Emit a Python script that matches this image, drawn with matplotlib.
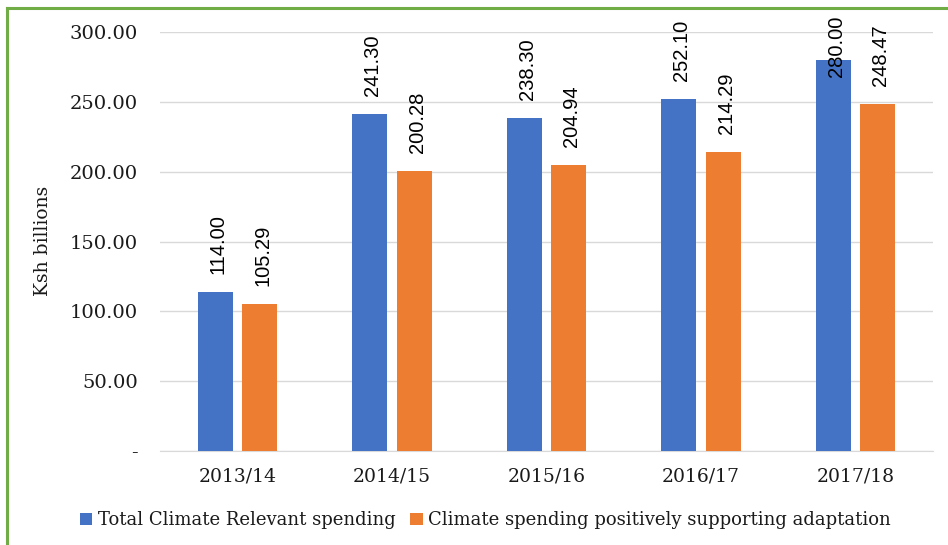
import matplotlib.pyplot as plt
import matplotlib.lines as mlines
import numpy as np

years = ['2013/14', '2014/15', '2015/16', '2016/17', '2017/18']
total_spending = [114.00, 241.30, 238.30, 252.10, 280.00]
adaptation_spending = [105.29, 200.28, 204.94, 214.29, 248.47]
series_names = ['Total Climate Relevant spending',
                'Climate spending positively supporting adaptation']

blue = '#4472C4'
orange = '#ED7D31'
grid_col = '#D9D9D9'
text_col = '#1A1A1A'
serif = 'DejaVu Serif'

fig = plt.figure(figsize=(9.48, 5.45), dpi=100)
ax = fig.add_axes([0.169, 0.1725, 0.815, 0.7685])

x = np.arange(len(years))
w = 0.226
off = 0.144
b1 = ax.bar(x - off, total_spending, w, color=blue, label=series_names[0], zorder=3)
b2 = ax.bar(x + off, adaptation_spending, w, color=orange, label=series_names[1], zorder=3)

ax.set_xlim(-0.5, len(years) - 0.5)
ax.set_ylim(0, 300)
ax.set_yticks(np.arange(0, 301, 50))
ax.set_yticklabels(['-' if t == 0 else f'{t:.2f}' for t in np.arange(0, 301, 50)],
                   fontfamily=serif, fontsize=14, color=text_col)
ax.set_xticks(x)
ax.set_xticklabels(years, fontfamily=serif, fontsize=13.5, color=text_col)
ax.tick_params(length=0)
ax.tick_params(axis='y', pad=16)
ax.tick_params(axis='x', pad=12)

ax.grid(axis='y', color=grid_col, lw=1, zorder=0)
for s in ['top', 'right', 'left']:
    ax.spines[s].set_visible(False)
ax.spines['bottom'].set_color(grid_col)

fig.text(43 / 948, 1 - 241 / 545, 'Ksh billions', rotation=90, ha='center', va='center',
         fontfamily=serif, fontsize=13.5, color=text_col)

# value labels, pushed down when they would run off the top of the chart
fig.canvas.draw()
renderer = fig.canvas.get_renderer()
y_limit = 312
for bars, vals in [(b1, total_spending), (b2, adaptation_spending)]:
    for bar, v in zip(bars, vals):
        t = ax.text(bar.get_x() + bar.get_width() / 2 + 0.02, v + 13, f'{v:.2f}',
                    rotation=90, ha='center', va='bottom', fontsize=14.5,
                    fontfamily='Liberation Sans', color='#000000', zorder=4,
                    clip_on=False)
        bb = t.get_window_extent(renderer).transformed(ax.transData.inverted())
        h = bb.y1 - bb.y0
        if v + 13 + h > y_limit:
            t.set_y(y_limit - h)

leg = fig.legend(handles=[b1, b2], loc='center', bbox_to_anchor=(0.512, 0.045),
                 ncol=2, frameon=False, handlelength=0.7, handleheight=0.7,
                 handletextpad=0.3, columnspacing=0.8,
                 prop={'family': serif, 'size': 13})
for txt in leg.get_texts():
    txt.set_color(text_col)

# green frame on the left and top edges
green = '#70AD47'
fig.add_artist(mlines.Line2D([7 / 948, 7 / 948], [0, 1 - 8 / 545], color=green, lw=2.2,
                             transform=fig.transFigure))
fig.add_artist(mlines.Line2D([7 / 948, 1], [1 - 8 / 545, 1 - 8 / 545], color=green, lw=2.2,
                             transform=fig.transFigure))

fig.savefig('out.png', dpi=100)
